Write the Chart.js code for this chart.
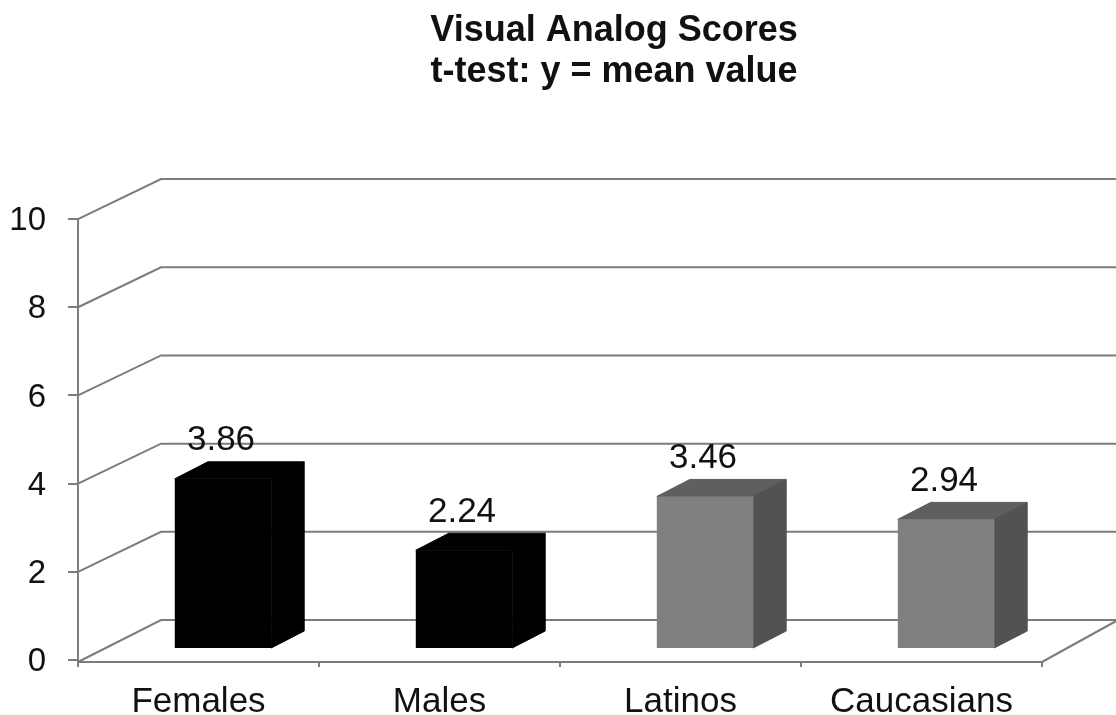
<!DOCTYPE html>
<html>
<head>
<meta charset="utf-8">
<title>Visual Analog Scores</title>
<script src="https://cdn.jsdelivr.net/npm/chart.js@4/dist/chart.umd.min.js"></script>
<style>
  html, body { margin: 0; background: #fff; overflow: hidden; width: 1116px; height: 715px; }
  canvas { display: block; }
</style>
</head>
<body>
<canvas id="chart" width="1220" height="715"></canvas>
<script>
const categories = ['Females', 'Males', 'Latinos', 'Caucasians'];
const scores = [3.86, 2.24, 3.46, 2.94];
const yTicks = [0, 2, 4, 6, 8, 10];
const titleLines = ['Visual Analog Scores', 't-test: y = mean value'];

const frontColors = ['#000000', '#000000', '#808080', '#808080'];
const topColors = ['#000000', '#000000', '#5f5f5f', '#5f5f5f'];
const sideColors = ['#000000', '#000000', '#525252', '#525252'];

const LINE = '#7c7c7c';
const TEXT = '#111111';
const FONT = '"Liberation Sans", Arial, sans-serif';

// the pseudo 3d look: back wall, bar depth, bars standing a bit inside the floor
const wall = { dx: 83, dy: -40, rightDx: 76 };
const depth = { dx: 33, dy: -17 };
const floorShift = { dx: 24.5, dy: -11 };
const titleShift = 93;

function poly(ctx, pts, color) {
  ctx.fillStyle = color;
  ctx.strokeStyle = color;
  ctx.lineWidth = 1;
  ctx.beginPath();
  pts.forEach((p, i) => i ? ctx.lineTo(p[0], p[1]) : ctx.moveTo(p[0], p[1]));
  ctx.closePath();
  ctx.fill();
  ctx.stroke();
}

const fake3d = {
  id: 'fake3d',
  afterLayout(chart) {
    // x axis line sits slightly under the y=0 tick
    chart.scales.x.top += 2;
    chart.scales.x.bottom += 2;
    // title is centred over the whole picture, not over the axes
    chart.titleBlock.left += titleShift;
    chart.titleBlock.right += titleShift;
  },
  beforeDatasetsDraw(chart) {
    const { ctx, scales: { x, y } } = chart;
    const left = x.left, right = x.right;
    ctx.save();
    ctx.strokeStyle = LINE;
    ctx.lineWidth = 2;
    yTicks.forEach(t => {
      const py = y.getPixelForValue(t);
      ctx.beginPath();
      ctx.moveTo(left, t === 0 ? py + 2 : py);
      ctx.lineTo(left + wall.dx, py + wall.dy);
      ctx.lineTo(right + wall.rightDx, py + wall.dy);
      ctx.stroke();
    });
    const p0 = y.getPixelForValue(0);
    ctx.beginPath();
    ctx.moveTo(right, p0 + 2);
    ctx.lineTo(right + wall.rightDx, p0 + wall.dy);
    ctx.moveTo(left, p0);
    ctx.lineTo(left, p0 + 6);
    ctx.stroke();
    ctx.restore();
  },
  beforeDatasetDraw(chart, args) {
    const ctx = chart.ctx;
    ctx.save();
    ctx.translate(floorShift.dx, floorShift.dy);
    args.meta.data.forEach((bar, i) => {
      const l = bar.x - bar.width / 2, r = bar.x + bar.width / 2;
      const t = bar.y, b = bar.base;
      poly(ctx, [[l, t], [r, t], [r + depth.dx, t + depth.dy], [l + depth.dx, t + depth.dy]], topColors[i]);
      poly(ctx, [[r, t], [r + depth.dx, t + depth.dy], [r + depth.dx, b + depth.dy], [r, b]], sideColors[i]);
    });
  },
  afterDatasetDraw(chart, args) {
    const ctx = chart.ctx;
    ctx.restore();
    ctx.save();
    ctx.fillStyle = TEXT;
    ctx.font = '35px ' + FONT;
    ctx.textAlign = 'center';
    ctx.textBaseline = 'middle';
    args.meta.data.forEach((bar, i) => {
      ctx.fillText(scores[i].toFixed(2), bar.x + floorShift.dx - 2,
        bar.y + floorShift.dy + depth.dy - 21);
    });
    ctx.restore();
  },
};

new Chart(document.getElementById('chart'), {
  type: 'bar',
  plugins: [fake3d],
  data: {
    labels: categories,
    datasets: [{
      data: scores,
      backgroundColor: frontColors,
      borderWidth: 0,
      barPercentage: 0.4,
      categoryPercentage: 1,
    }],
  },
  options: {
    responsive: false,
    animation: false,
    layout: { padding: { left: 0, right: 178, top: 0, bottom: 0 } },
    plugins: {
      legend: { display: false },
      tooltip: { enabled: false },
      title: {
        display: true,
        text: titleLines,
        color: TEXT,
        font: { family: FONT, size: 36, weight: 'bold', lineHeight: 1.14 },
        padding: { top: 11, bottom: 126 },
      },
    },
    scales: {
      x: {
        afterFit(s) { s.height = 55; },
        border: { color: LINE, width: 2 },
        grid: { drawOnChartArea: false, color: LINE, lineWidth: 2, tickLength: 5 },
        ticks: {
          color: TEXT,
          font: { family: FONT, size: 35 },
          padding: 14,
          autoSkip: false,
          maxRotation: 0,
        },
      },
      y: {
        min: 0,
        max: 10,
        afterFit(s) { s.width = 78; },
        afterBuildTicks(s) { s.ticks = yTicks.map(v => ({ value: v })); },
        border: { color: LINE, width: 2 },
        grid: { drawOnChartArea: false, color: LINE, lineWidth: 2, tickLength: 10 },
        ticks: {
          color: TEXT,
          font: { family: FONT, size: 33 },
          padding: 22,
          labelOffset: 2,
        },
      },
    },
  },
});
</script>
</body>
</html>
